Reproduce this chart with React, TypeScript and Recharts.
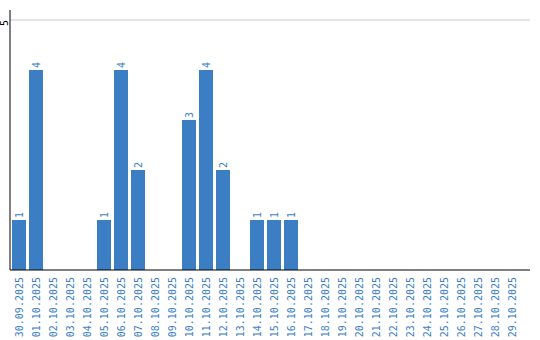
import React from 'react';
import { BarChart, Bar, XAxis, YAxis, CartesianGrid, LabelList } from 'recharts';

const dates = [
  '30.09.2025', '01.10.2025', '02.10.2025', '03.10.2025', '04.10.2025', '05.10.2025',
  '06.10.2025', '07.10.2025', '08.10.2025', '09.10.2025', '10.10.2025', '11.10.2025',
  '12.10.2025', '13.10.2025', '14.10.2025', '15.10.2025', '16.10.2025', '17.10.2025',
  '18.10.2025', '19.10.2025', '20.10.2025', '21.10.2025', '22.10.2025', '23.10.2025',
  '24.10.2025', '25.10.2025', '26.10.2025', '27.10.2025', '28.10.2025', '29.10.2025',
];
const counts = [1, 4, 0, 0, 0, 1, 4, 2, 0, 0, 3, 4, 2, 0, 1, 1, 1, 0, 0, 0, 0, 0, 0, 0, 0, 0, 0, 0, 0, 0];
const yTicks = [5];

const data = dates.map((d, i) => ({ date: d, count: counts[i] }));

const BLUE = '#3b7ec4';
const FONT = '"DejaVu Sans Mono", monospace';

// axis labels are rotated; the end of the text sits next to the axis
const DateTick = (props: any) => {
  const { x, y, payload } = props;
  const tx = x + 4;
  const ty = y - 1;
  return (
    <text x={tx} y={ty} transform={`rotate(-90 ${tx} ${ty})`} textAnchor="end" fontSize={10} fontFamily={FONT} fill={BLUE}>
      {payload.value}
    </text>
  );
};

const CountTick = (props: any) => {
  const { y, payload } = props;
  const tx = 8;
  return (
    <text x={tx} y={y} transform={`rotate(-90 ${tx} ${y})`} textAnchor="end" fontSize={10} fontFamily={FONT} fill="#000">
      {payload.value}
    </text>
  );
};

const ValueLabel = (props: any) => {
  const { x, y, width, value } = props;
  if (!value) return null;
  const tx = x + width / 2 + 4;
  const ty = y - 2;
  return (
    <text x={tx} y={ty} transform={`rotate(-90 ${tx} ${ty})`} textAnchor="start" fontSize={10} fontFamily={FONT} fill={BLUE}>
      {value}
    </text>
  );
};

export default function App() {
  return (
    <div style={{ position: 'absolute', left: 0, top: 0, width: 540, height: 340, background: '#fff' }}>
      <BarChart width={540} height={340} data={data} margin={{ top: 10, right: 10, left: 0, bottom: 0 }} barSize={14}>
        <CartesianGrid horizontal vertical={false} horizontalPoints={[20]} stroke="#cccccc" />
        <XAxis
          dataKey="date"
          interval={0}
          height={70}
          padding={{ left: 0, right: 10 }}
          tickLine={false}
          axisLine={{ stroke: '#000' }}
          tick={<DateTick />}
        />
        <YAxis
          width={10}
          domain={[0, 5.2]}
          ticks={yTicks}
          tickLine={false}
          axisLine={{ stroke: '#000' }}
          tick={<CountTick />}
        />
        <Bar dataKey="count" fill={BLUE} isAnimationActive={false}>
          <LabelList dataKey="count" content={<ValueLabel />} />
        </Bar>
      </BarChart>
    </div>
  );
}
